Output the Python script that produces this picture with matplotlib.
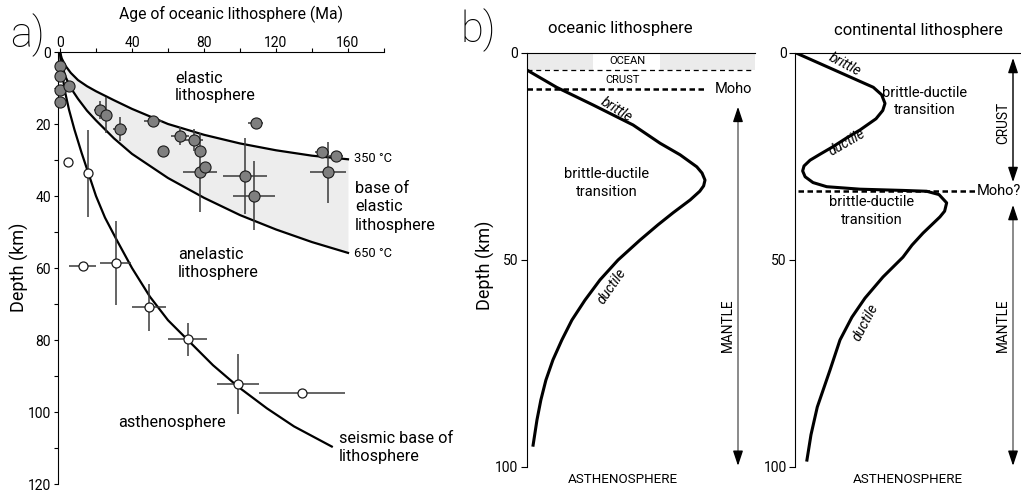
"""Lithosphere thickness vs. age (a) and strength envelopes (b)."""

import matplotlib

matplotlib.use("Agg")
import matplotlib.pyplot as plt

plt.rcParams["font.family"] = ["Roboto", "DejaVu Sans"]

# ---------------------------------------------------------------------------
# Panel a data: age [Ma] vs depth [km]
# ---------------------------------------------------------------------------
iso_age = [0, 1, 3, 6, 10, 15, 20, 30, 40, 60, 80, 100, 120, 140, 160]
iso350_depth = [0, 1.8, 3.8, 5.8, 7.8, 9.5, 10.9, 13.4, 15.8, 20.0, 23.0, 25.4, 27.3, 28.8, 29.8]
iso650_depth = [0, 3.5, 6.8, 10.0, 13.0, 16.3, 19.0, 24.0, 28.3, 35.0, 40.5, 45.3, 49.3, 52.8, 55.8]

seis_age = [0, 0.5, 1.5, 3, 5, 8, 12, 16, 20, 25, 31.5, 40, 50, 60, 71, 85, 99, 115, 130, 151]
seis_depth = [0, 3, 7, 11.5, 16, 21.5, 28, 34, 40, 46, 52.2, 60, 68, 74.5, 80, 87, 93, 99, 104, 109.6]

# elastic thickness estimates (grey dots)
te_age = [0, 0, 0, 0, 5.2, 22, 25.5, 33.3, 51.9, 57.4, 66.7, 74.6, 77.8, 77.8,
          80.7, 102.8, 108.7, 107.8, 145.7, 153.3, 149]
te_depth = [4, 6.7, 10.5, 14, 9.4, 16.1, 17.5, 21.4, 19.2, 27.5, 23.2, 24.4, 27.5, 33.4,
            31.9, 34.4, 19.6, 39.9, 27.9, 28.9, 33.4]
te_age_err = [0, 0, 0, 0, 0, 3, 3, 4, 5, 3, 5, 5, 0, 9.4, 0, 12, 4, 11.7, 4, 4, 10]
te_depth_err = [0, 0, 0, 0, 0, 2.5, 5, 3.3, 0, 0, 2.5, 3, 0, 11, 0, 10.5, 0, 9.5, 0, 0, 8.5]

# seismic lithosphere thickness (open dots)
sl_age = [4.3, 15.7, 12.6, 30.9, 49.4, 70.9, 99, 134.3]
sl_depth = [30.5, 33.7, 59.4, 58.7, 70.9, 79.8, 92.2, 94.6]
sl_age_err = [1.5, 2, 7.4, 8.6, 9.3, 11, 11.6, 24]
sl_depth_err = [0, 12, 0, 11.7, 6.5, 4.6, 8.3, 0]

# ---------------------------------------------------------------------------
# Panel b data: normalised strength vs depth [km]
# ---------------------------------------------------------------------------
oc_strength = [0, 0.131, 0.292, 0.466, 0.584, 0.672, 0.745, 0.768, 0.781, 0.775, 0.758,
               0.716, 0.641, 0.575, 0.496, 0.400, 0.321, 0.255, 0.198, 0.154, 0.115,
               0.084, 0.062, 0.045, 0.028]
oc_depth = [4.2, 8.4, 12.7, 17.5, 21.9, 24.7, 27.6, 29.1, 30.8, 32.2, 33.5,
            35.6, 38.7, 41.6, 45.3, 50.1, 54.9, 59.8, 64.6, 69.4, 74.2,
            79.1, 83.9, 88.7, 94.8]

ct_strength = [0, 0.17, 0.348, 0.385, 0.40, 0.39, 0.36, 0.289, 0.23, 0.17, 0.11, 0.067,
               0.04, 0.034, 0.045, 0.08, 0.141, 0.289, 0.481, 0.585, 0.64, 0.674, 0.665,
               0.644, 0.569, 0.52, 0.48, 0.391, 0.311, 0.253, 0.2, 0.156, 0.099, 0.071, 0.053]
ct_depth = [0, 4.1, 8.4, 10.2, 12.3, 14.0, 16.0, 18.7, 20.6, 22.7, 24.6, 26.0,
            27.4, 28.6, 30.0, 31.4, 32.4, 33.0, 33.3, 33.5, 34.3, 36.3, 38.3,
            39.7, 43.6, 46.5, 49.4, 54.2, 59.3, 63.9, 69.4, 76.6, 85.6, 92.3, 98.4]

oc_ocean_base = 4.2
oc_moho = 8.7
ct_moho = 33.4

W, H = 1021, 492


def px_axes(left, right, top, bottom):
    """Axes rectangle from pixel edges."""
    return [left / W, (H - bottom) / H, (right - left) / W, (bottom - top) / H]


def arrow_head(ax, x, tip, base):
    ax.annotate(
        "", xy=(x, tip), xytext=(x, base),
        arrowprops=dict(arrowstyle="-|>,head_length=0.9,head_width=0.3",
                        color="black", lw=1, shrinkA=0, shrinkB=0),
        annotation_clip=False,
    )


def double_arrow(ax, x, top, bottom, color):
    ax.plot([x, x], [top + 2, bottom - 2], color=color, lw=1.2, clip_on=False)
    arrow_head(ax, x, top, top + 2.5)
    arrow_head(ax, x, bottom, bottom - 2.5)


fig = plt.figure(figsize=(10.21, 4.92), dpi=100)

# ---------------------------------------------------------------------------
# a) age - depth
# ---------------------------------------------------------------------------
ax = fig.add_axes(px_axes(58, 384, 52, 484))
ax.fill_between(iso_age, iso350_depth, iso650_depth, color="#ededed", lw=0, zorder=0)
for depth in (iso350_depth, iso650_depth):
    ax.plot(iso_age, depth, color="black", lw=1.6, zorder=1)
ax.plot(seis_age, seis_depth, color="black", lw=1.6, zorder=1)

ax.errorbar(te_age, te_depth, xerr=te_age_err, yerr=te_depth_err, fmt="none",
            ecolor="#3a3a3a", elinewidth=1.1, zorder=2)
ax.plot(te_age, te_depth, "o", mfc="#7f7f7f", mec="#1a1a1a", ms=8, mew=0.8,
        zorder=4, clip_on=False)
ax.errorbar(sl_age, sl_depth, xerr=sl_age_err, yerr=sl_depth_err, fmt="none",
            ecolor="#3a3a3a", elinewidth=1.1, zorder=2)
ax.plot(sl_age, sl_depth, "o", mfc="white", mec="#1a1a1a", ms=6.5, mew=0.9,
        zorder=4, clip_on=False)

ax.set_xlim(-1.1, 180)
ax.set_ylim(120, 0)
ax.xaxis.tick_top()
ax.set_xticks(range(0, 181, 20))
ax.set_xticklabels([str(v) if v % 40 == 0 and v <= 160 else "" for v in range(0, 181, 20)])
ax.set_yticks(range(0, 121, 10))
ax.set_yticklabels([str(v) if v % 20 == 0 else "" for v in range(0, 121, 10)])
ax.tick_params(axis="x", direction="out", length=3, pad=-1.5, labelsize=10)
ax.tick_params(axis="y", direction="out", length=3, pad=2, labelsize=10)
for side in ("right", "bottom"):
    ax.spines[side].set_visible(False)

ax.text(0.53, 1.086, "Age of oceanic lithosphere (Ma)", transform=ax.transAxes,
        ha="center", va="center", fontsize=11.3)
ax.text(-0.118, 0.502, "Depth (km)", transform=ax.transAxes, rotation=90,
        ha="center", va="center", fontsize=13)
ax.text(63.9, 9.7, "elastic\nlithosphere", ha="left", va="center", fontsize=11.7)
ax.text(163.5, 29.7, "350 °C", ha="left", va="center", fontsize=9.3, clip_on=False)
ax.text(164, 43.0, "base of\nelastic\nlithosphere", ha="left", va="center",
        fontsize=11.7, linespacing=1.3, clip_on=False)
ax.text(163.5, 56.1, "650 °C", ha="left", va="center", fontsize=9.3, clip_on=False)
ax.text(65.6, 58.8, "anelastic\nlithosphere", ha="left", va="center", fontsize=11.7,
        linespacing=1.3)
ax.text(32.2, 103.0, "asthenosphere", ha="left", va="center", fontsize=11.7)
ax.text(155, 109.9, "seismic base of\nlithosphere", ha="left", va="center",
        fontsize=11.7, linespacing=1.3, clip_on=False)

# ---------------------------------------------------------------------------
# b) strength envelopes
# ---------------------------------------------------------------------------
ax_o = fig.add_axes(px_axes(526.7, 755, 52.5, 466.7))
ax_c = fig.add_axes(px_axes(795, 1020, 52.5, 466.7))
for a in (ax_o, ax_c):
    a.set_xlim(0, 1)
    a.set_ylim(100, 0)
    a.set_xticks([])
    a.set_yticks([0, 50, 100])
    a.tick_params(axis="y", direction="out", length=4, pad=2, labelsize=10)
    for side in ("right", "bottom"):
        a.spines[side].set_visible(False)
    a.text(0.42 if a is ax_o else 0.502, 103.2, "ASTHENOSPHERE", ha="center",
           va="center", fontsize=9.6, clip_on=False)

# oceanic
ax_o.axhspan(0, oc_ocean_base, xmin=0, xmax=0.29, color="#ebebeb", lw=0, zorder=0)
ax_o.axhspan(0, oc_ocean_base, xmin=0.584, xmax=1, color="#ebebeb", lw=0, zorder=0)
ax_o.axhline(oc_ocean_base, color="black", lw=0.9, ls=(0, (4, 3)))
ax_o.plot([0, 0.785], [oc_moho, oc_moho], color="black", lw=1.8, ls=(0, (2.2, 1.4)))
ax_o.plot(oc_strength, oc_depth, color="black", lw=2.2, solid_joinstyle="round")
double_arrow(ax_o, 0.9255, 13.1, 99.8, "#777777")

ax_o.text(0.409, -5.9, "oceanic lithosphere", ha="center", va="center", fontsize=12)
ax_o.text(0.44, 2.05, "OCEAN", ha="center", va="center", fontsize=8)
ax_o.text(0.42, 6.6, "CRUST", ha="center", va="center", fontsize=8)
ax_o.text(0.825, oc_moho, "Moho", ha="left", va="center", fontsize=10.5)
ax_o.text(0.394, 13.9, "brittle", ha="center", va="center", fontsize=10,
          style="italic", rotation=-32)
ax_o.text(0.35, 31.5, "brittle-ductile\ntransition", ha="center", va="center",
          fontsize=10.5, linespacing=1.3)
ax_o.text(0.372, 56.5, "ductile", ha="center", va="center", fontsize=10,
          style="italic", rotation=55)
ax_o.text(0.882, 65.8, "MANTLE", ha="center", va="center", fontsize=9.8, rotation=90)
ax_o.text(-0.18, 0.487, "Depth (km)", transform=ax_o.transAxes, rotation=90,
          ha="center", va="center", fontsize=13)

# continental
ax_c.plot([0.013, 0.80], [ct_moho, ct_moho], color="black", lw=1.8, ls=(0, (2.2, 1.4)))
ax_c.plot(ct_strength, ct_depth, color="black", lw=2.2, solid_joinstyle="round")
double_arrow(ax_c, 0.969, 1.3, 31.3, "#222222")
double_arrow(ax_c, 0.969, 36.8, 99.8, "#777777")

ax_c.text(0.547, -5.4, "continental lithosphere", ha="center", va="center", fontsize=12)
ax_c.text(0.222, 3.0, "brittle", ha="center", va="center", fontsize=10,
          style="italic", rotation=-28)
ax_c.text(0.578, 11.8, "brittle-ductile\ntransition", ha="center", va="center",
          fontsize=10.5, linespacing=1.3)
ax_c.text(0.231, 21.8, "ductile", ha="center", va="center", fontsize=10,
          style="italic", rotation=30)
ax_c.text(0.809, ct_moho, "Moho?", ha="left", va="center", fontsize=10.5, clip_on=False)
ax_c.text(0.342, 38.3, "brittle-ductile\ntransition", ha="center", va="center",
          fontsize=10.5, linespacing=1.3)
ax_c.text(0.311, 65.1, "ductile", ha="center", va="center", fontsize=10,
          style="italic", rotation=62)
ax_c.text(0.924, 17.0, "CRUST", ha="center", va="center", fontsize=9.8, rotation=90)
ax_c.text(0.924, 65.8, "MANTLE", ha="center", va="center", fontsize=9.8, rotation=90)

fig.text(27 / W, 1 - 35 / H, "a)", ha="center", va="center", fontsize=30,
         weight="light")
fig.text(478 / W, 1 - 30 / H, "b)", ha="center", va="center", fontsize=30,
         weight="light")

fig.savefig("out.png", dpi=100)
plt.close(fig)
